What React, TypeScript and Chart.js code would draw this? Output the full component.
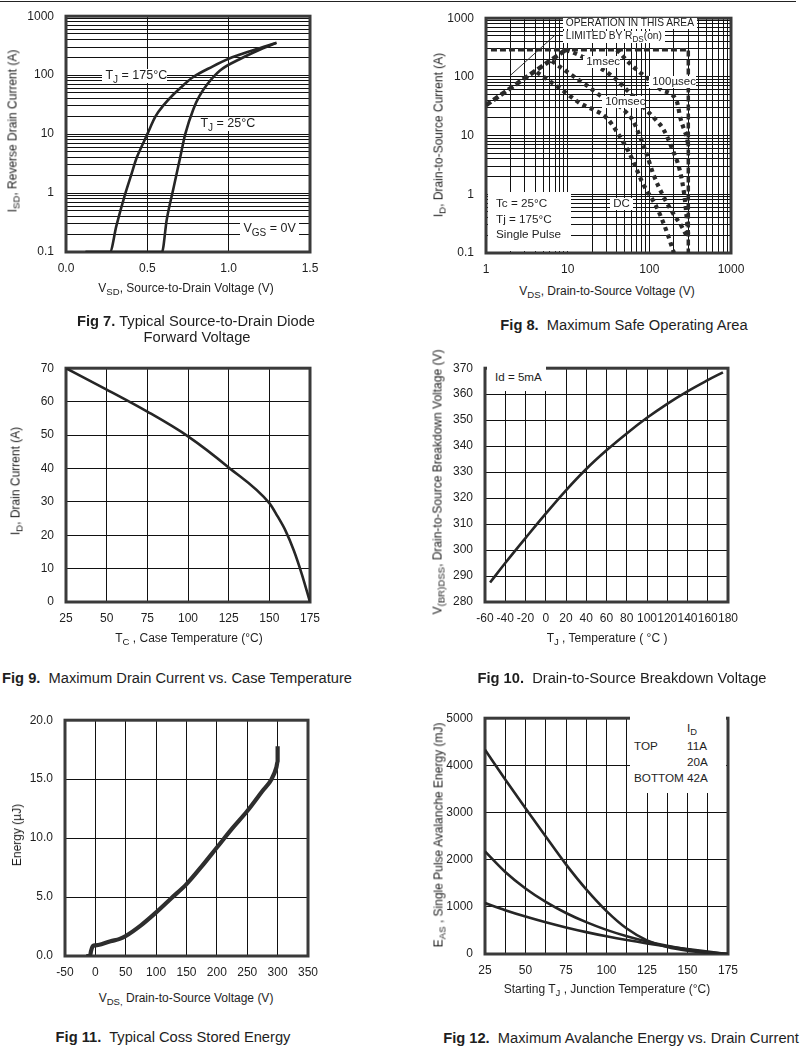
import React, { useEffect, useRef } from "react";
import { Chart, registerables } from "chart.js";
Chart.register(...registerables);

// ---------------- Fig 7 : source-to-drain diode forward voltage ----------------
const fig7XTicks = [0.0, 0.5, 1.0, 1.5];
const fig7YTicks = [0.1, 1, 10, 100, 1000];
const fig7V175 = [0.12, 0.27, 0.31, 0.363, 0.4, 0.435, 0.47, 0.5, 0.55, 0.6, 0.66, 0.72, 0.78, 0.9, 1.0, 1.15, 1.295];
const fig7I175 = [0.1, 0.1, 0.28, 0.95, 2.0, 4.0, 6.6, 10, 20, 31, 47, 67, 92, 140, 190, 265, 355];
const fig7V25 = [0.12, 0.59, 0.619, 0.66, 0.7, 0.733, 0.784, 0.82, 0.865, 0.947, 1.07, 1.18, 1.29];
const fig7I25 = [0.1, 0.1, 0.35, 1.18, 3.8, 10, 27, 44, 68, 120, 188, 262, 350];

// ---------------- Fig 8 : safe operating area ----------------
const fig8XTicks = [1, 10, 100, 1000];
const fig8YTicks = [0.1, 1, 10, 100, 1000];
const fig8RdsV = [1, 9.5];
const fig8RdsI = [33, 290];
const fig8LimitV = [1.15, 300, 300];
const fig8LimitI = [290, 290, 0.1];
const fig8GuideV = [2.0, 7.1];
const fig8GuideI = [107, 524];
const fig8Us100V = [40, 60, 80, 102, 140, 216, 240, 270, 290, 298];
const fig8Us100I = [290, 160, 114, 87, 60, 39, 20, 12, 9, 7];
const fig8Ms1V = [9.5, 14.4, 21, 38, 53, 84, 127, 148, 190, 237, 270, 300];
const fig8Ms1I = [290, 229, 167, 94, 60, 31, 17, 13, 6, 2.5, 0.9, 0.2];
const fig8Ms10V = [6.4, 10, 17, 27, 40, 52, 63, 72, 92, 112, 150, 200, 250, 290];
const fig8Ms10I = [186, 120, 72, 45, 34, 25, 18, 12, 5, 2.2, 0.9, 0.45, 0.28, 0.19];
const fig8DcV = [4.2, 8, 14, 30, 38, 57, 84, 123, 160, 200];
const fig8DcI = [120, 64, 36, 20, 13, 5, 1.5, 0.6, 0.25, 0.1];

// ---------------- Fig 9 : drain current vs case temperature ----------------
const fig9XTicks = [25, 50, 75, 100, 125, 150, 175];
const fig9YTicks = [0, 10, 20, 30, 40, 50, 60, 70];
const fig9Temp = [25, 50, 75, 100, 125, 150, 155, 160, 165, 170, 175];
const fig9Current = [70, 63.6, 57.0, 49.6, 40.3, 29.6, 25.7, 21.3, 15.5, 8.3, 0];

// ---------------- Fig 10 : breakdown voltage ----------------
const fig10XTicks = [-60, -40, -20, 0, 20, 40, 60, 80, 100, 120, 140, 160, 180];
const fig10YTicks = [280, 290, 300, 310, 320, 330, 340, 350, 360, 370];
const fig10Temp = [-55, -40, -20, 0, 20, 40, 60, 80, 100, 120, 140, 160, 175];
const fig10Voltage = [287.5, 295.0, 304.6, 314.0, 323.0, 331.2, 338.4, 344.9, 350.9, 356.3, 361.1, 365.4, 368.4];

// ---------------- Fig 11 : Coss stored energy ----------------
const fig11XTicks = [-50, 0, 50, 100, 150, 200, 250, 300, 350];
const fig11YTicks = [0, 5, 10, 15, 20];
const fig11Voltage = [-15, -9, -7, -4, 0, 10, 25, 40, 50, 75, 100, 125, 150, 175, 200, 225, 250, 275, 290, 298, 300, 300];
const fig11Energy = [0, 0, 0.45, 0.85, 0.9, 1.0, 1.25, 1.45, 1.7, 2.6, 3.7, 4.9, 6.1, 7.6, 9.2, 10.8, 12.3, 14.0, 15.0, 16.0, 16.5, 17.8];

// ---------------- Fig 12 : avalanche energy ----------------
const fig12XTicks = [25, 50, 75, 100, 125, 150, 175];
const fig12YTicks = [0, 1000, 2000, 3000, 4000, 5000];
const fig12Temp = [25, 37.5, 50, 62.5, 75, 87.5, 100, 112.5, 125, 137.5, 150, 162.5, 175];
const fig12E11A = [4330, 3700, 3090, 2490, 1900, 1370, 910, 540, 290, 150, 70, 22, 0];
const fig12E20A = [2175, 1740, 1390, 1105, 870, 675, 512, 377, 265, 172, 95, 38, 0];
const fig12E42A = [1080, 930, 795, 673, 563, 464, 375, 295, 224, 160, 103, 50, 0];

// ---------------- helpers ----------------
const FONT = '"Liberation Sans", Arial, Helvetica, sans-serif';
const INK = "#1e1e1e";
const PL = 60, PT = 12, PR = 30, PB = 30;

type Rect = { l: number; t: number; w: number; h: number };

const pts = (xs: number[], ys: number[]) => xs.map((x, i) => ({ x, y: ys[i] }));

function logGrid(decades: number[]): number[] {
  const out: number[] = [];
  for (let i = 0; i < decades.length - 1; i++) {
    for (let m = 1; m < 10; m++) out.push(+(decades[i] * m).toPrecision(6));
  }
  out.push(decades[decades.length - 1]);
  return out;
}

function halfSteps(ticks: number[]): number[] {
  const out: number[] = [];
  ticks.forEach((t, i) => {
    out.push(t);
    if (i < ticks.length - 1) out.push((t + ticks[i + 1]) / 2);
  });
  return out;
}

function axis(
  kind: "x" | "y",
  type: "linear" | "logarithmic",
  gridVals: number[],
  labelVals: number[],
  fmt: (v: number) => string
) {
  const min = gridVals[0];
  const max = gridVals[gridVals.length - 1];
  return {
    type,
    min,
    max,
    position: kind === "x" ? "bottom" : "left",
    afterBuildTicks: (s: any) => {
      s.ticks = gridVals.map((v) => ({ value: v }));
    },
    afterFit: (s: any) => {
      if (kind === "x") s.height = PB;
      else s.width = PL;
    },
    grid: { color: "#111", lineWidth: 1, drawTicks: false },
    border: { display: false },
    ticks: {
      autoSkip: false,
      maxRotation: 0,
      minRotation: 0,
      padding: kind === "x" ? 9 : 12,
      color: INK,
      font: { family: FONT, size: 12 },
      callback: (v: number) => {
        const hit = labelVals.find((l) => Math.abs(l - v) <= 1e-7 * Math.max(1, Math.abs(l)));
        return hit === undefined ? "" : fmt(hit);
      },
    },
  };
}

function line(data: { x: number; y: number }[], width = 2.5, dash: number[] = [], color = "#262626") {
  return {
    data,
    showLine: true,
    borderColor: color,
    backgroundColor: color,
    borderWidth: width,
    borderDash: dash,
    borderCapStyle: "butt",
    borderJoinStyle: "round",
    pointRadius: 0,
    pointHoverRadius: 0,
    fill: false,
    cubicInterpolationMode: "monotone",
  };
}

const frame = {
  id: "frame",
  beforeDatasetsDraw(chart: any) {
    const { ctx, chartArea: a } = chart;
    ctx.save();
    ctx.strokeStyle = "#3a3a3a";
    ctx.lineWidth = 3;
    ctx.strokeRect(a.left, a.top, a.right - a.left, a.bottom - a.top);
    ctx.restore();
  },
};

function cfg(x: any, y: any, datasets: any[]) {
  return {
    type: "scatter",
    data: { datasets },
    options: {
      animation: false,
      responsive: false,
      maintainAspectRatio: false,
      devicePixelRatio: 1,
      events: [],
      layout: { padding: { left: 0, top: PT, right: PR, bottom: 0 } },
      plugins: { legend: { display: false }, tooltip: { enabled: false } },
      scales: { x, y },
    },
    plugins: [frame],
  };
}

function ChartPanel({ rect, make }: { rect: Rect; make: () => any }) {
  const ref = useRef<HTMLCanvasElement | null>(null);
  useEffect(() => {
    const c = new Chart(ref.current as HTMLCanvasElement, make());
    return () => c.destroy();
  }, []);
  const w = rect.w + PL + PR;
  const h = rect.h + PT + PB;
  return (
    <canvas
      ref={ref}
      width={w}
      height={h}
      style={{ position: "absolute", left: rect.l - PL, top: rect.t - PT, width: w, height: h }}
    />
  );
}

const Sub = ({ children }: { children: React.ReactNode }) => (
  <span style={{ fontSize: "0.8em", position: "relative", top: "0.32em" }}>{children}</span>
);

// text placed by baseline
function Txt({
  x, y, size = 12, children, align = "left", bg = false,
}: {
  x: number; y: number; size?: number; children: React.ReactNode; align?: "left" | "center"; bg?: boolean;
}) {
  return (
    <div
      style={{
        position: "absolute",
        left: x,
        top: y - 0.8465 * size,
        fontFamily: FONT,
        fontSize: size,
        lineHeight: `${size}px`,
        color: INK,
        whiteSpace: "nowrap",
        transform: align === "center" ? "translateX(-50%)" : undefined,
        background: bg ? "#fff" : undefined,
      }}
    >
      {children}
    </div>
  );
}

function VTitle({ cx, cy, children, size = 12 }: { cx: number; cy: number; children: React.ReactNode; size?: number }) {
  return (
    <div
      style={{
        position: "absolute",
        left: cx,
        top: cy,
        fontFamily: FONT,
        fontSize: size,
        lineHeight: `${size + 2}px`,
        color: INK,
        whiteSpace: "nowrap",
        transform: "translate(-50%, -50%) rotate(-90deg)",
      }}
    >
      {children}
    </div>
  );
}

const WhiteBox = ({ l, t, r, b }: { l: number; t: number; r: number; b: number }) => (
  <div style={{ position: "absolute", left: l, top: t, width: r - l, height: b - t, background: "#fff" }} />
);

const CAP = 14.7;
const Caption = ({ x, y, num, text }: { x: number; y: number; num: string; text: string }) => (
  <Txt x={x} y={y} size={CAP} align="center">
    <b>{num}</b>
    {text}
  </Txt>
);

// ---------------- chart builders ----------------
const R7: Rect = { l: 66, t: 9, w: 244, h: 243 };
const R8: Rect = { l: 486, t: 11, w: 245, h: 242 };
const R9: Rect = { l: 66, t: 361, w: 244, h: 241 };
const R10: Rect = { l: 485, t: 361, w: 243, h: 241 };
const R11: Rect = { l: 65, t: 713, w: 243, h: 243 };
const R12: Rect = { l: 485, t: 711, w: 243, h: 243 };

const SOA = "#2a2a2a";

const make7 = () =>
  cfg(
    axis("x", "linear", fig7XTicks, fig7XTicks, (v) => v.toFixed(1)),
    axis("y", "logarithmic", logGrid(fig7YTicks), fig7YTicks, (v) => String(v)),
    [line(pts(fig7V175, fig7I175), 2.6), line(pts(fig7V25, fig7I25), 2.6)]
  );

const make8 = () =>
  cfg(
    axis("x", "logarithmic", logGrid(fig8XTicks), fig8XTicks, (v) => String(v)),
    axis("y", "logarithmic", logGrid(fig8YTicks), fig8YTicks, (v) => String(v)),
    [
      line(pts(fig8GuideV, fig8GuideI), 1, [], "#333"),
      { ...line(pts(fig8LimitV, fig8LimitI), 3.5, [6, 3], SOA), cubicInterpolationMode: "default", tension: 0 },
      { ...line(pts(fig8RdsV, fig8RdsI), 4.5, [6, 3], SOA), cubicInterpolationMode: "default", tension: 0 },
      line(pts(fig8Us100V, fig8Us100I), 4.2, [4, 4], SOA),
      line(pts(fig8Ms1V, fig8Ms1I), 4.2, [4, 4], SOA),
      line(pts(fig8Ms10V, fig8Ms10I), 4.2, [4, 4], SOA),
      line(pts(fig8DcV, fig8DcI), 4.2, [4, 4], SOA),
    ]
  );

const make9 = () =>
  cfg(
    axis("x", "linear", fig9XTicks, fig9XTicks, (v) => String(v)),
    axis("y", "linear", fig9YTicks, fig9YTicks, (v) => String(v)),
    [line(pts(fig9Temp, fig9Current), 2.6)]
  );

const make10 = () =>
  cfg(
    axis("x", "linear", fig10XTicks, fig10XTicks, (v) => String(v)),
    axis("y", "linear", fig10YTicks, fig10YTicks, (v) => String(v)),
    [{ ...line(pts(fig10Temp, fig10Voltage), 2.6), cubicInterpolationMode: "default", tension: 0.4 }]
  );

const make11 = () =>
  cfg(
    axis("x", "linear", fig11XTicks, fig11XTicks, (v) => String(v)),
    axis("y", "linear", fig11YTicks, fig11YTicks, (v) => v.toFixed(1)),
    [line(pts(fig11Voltage, fig11Energy), 4.2, [], "#2e2e2e")]
  );

const make12 = () =>
  cfg(
    axis("x", "linear", halfSteps(fig12XTicks), fig12XTicks, (v) => String(v)),
    axis("y", "linear", fig12YTicks, fig12YTicks, (v) => String(v)),
    [
      line(pts(fig12Temp, fig12E11A), 2.6),
      line(pts(fig12Temp, fig12E20A), 2.6),
      line(pts(fig12Temp, fig12E42A), 2.6),
    ]
  );

export default function App() {
  return (
    <div
      style={{
        position: "absolute",
        left: 0,
        top: 0,
        width: 802,
        height: 1049,
        background: "#fff",
        overflow: "hidden",
      }}
    >
      <div style={{ position: "absolute", left: 0, top: 1, width: 796, height: 1, background: "#222" }} />

      {/* Fig 7 */}
      <ChartPanel rect={R7} make={make7} />
      <Txt x={102} y={80} size={12.5} bg>
        &nbsp;T<Sub>J</Sub> = 175°C
      </Txt>
      <Txt x={197} y={128} size={12.5} bg>
        &nbsp;T<Sub>J</Sub> = 25°C
      </Txt>
      <Txt x={240} y={233} size={12.5} bg>
        &nbsp;V<Sub>GS</Sub> = 0V&nbsp;
      </Txt>
      <VTitle cx={13} cy={131}>
        I<Sub>SD</Sub>, Reverse Drain Current (A)
      </VTitle>
      <Txt x={186} y={292} align="center">
        V<Sub>SD</Sub>, Source-to-Drain Voltage (V)
      </Txt>
      <Caption x={196} y={326} num="Fig 7." text=" Typical Source-to-Drain Diode" />
      <Txt x={197} y={342} size={CAP} align="center">
        Forward Voltage
      </Txt>

      {/* Fig 8 */}
      <ChartPanel rect={R8} make={make8} />
      <WhiteBox l={488} t={192} r={571} b={251} />
      <Txt x={563} y={27} size={10.2} bg>
        &nbsp;OPERATION IN THIS AREA&nbsp;
      </Txt>
      <Txt x={563} y={40} size={10.2} bg>
        &nbsp;LIMITED BY R<Sub>DS</Sub>(on)&nbsp;
      </Txt>
      <Txt x={583} y={66} size={11.5} bg>
        &nbsp;1msec
      </Txt>
      <Txt x={649} y={86} size={11.5} bg>
        &nbsp;100µsec
      </Txt>
      <Txt x={602} y={106} size={11.5} bg>
        &nbsp;10msec
      </Txt>
      <Txt x={610} y={208} size={11.5} bg>
        &nbsp;DC&nbsp;
      </Txt>
      <Txt x={496} y={207} size={11.7}>
        Tc = 25°C
      </Txt>
      <Txt x={496} y={222.5} size={11.7}>
        Tj = 175°C
      </Txt>
      <Txt x={496} y={237.5} size={11.7}>
        Single Pulse
      </Txt>
      <VTitle cx={439} cy={135}>
        I<Sub>D</Sub>, Drain-to-Source Current (A)
      </VTitle>
      <Txt x={607} y={295} align="center">
        V<Sub>DS</Sub>, Drain-to-Source Voltage (V)
      </Txt>
      <Caption x={624} y={330} num="Fig 8." text={"\u00a0 Maximum Safe Operating Area"} />

      {/* Fig 9 */}
      <ChartPanel rect={R9} make={make9} />
      <VTitle cx={16} cy={481}>
        I<Sub>D</Sub>, Drain Current (A)
      </VTitle>
      <Txt x={189} y={642} align="center">
        T<Sub>C</Sub> , Case Temperature (°C)
      </Txt>
      <Caption x={177} y={683} num="Fig 9." text={"\u00a0 Maximum Drain Current vs. Case Temperature"} />

      {/* Fig 10 */}
      <ChartPanel rect={R10} make={make10} />
      <WhiteBox l={487} t={363} r={546} b={391} />
      <Txt x={495} y={381} size={11.6}>
        Id = 5mA
      </Txt>
      <VTitle cx={438} cy={482}>
        V<Sub>(BR)DSS</Sub>, Drain-to-Source Breakdown Voltage (V)
      </VTitle>
      <Txt x={607} y={642} align="center">
        T<Sub>J</Sub> , Temperature ( °C )
      </Txt>
      <Caption x={622} y={683} num="Fig 10." text={"\u00a0 Drain-to-Source Breakdown Voltage"} />

      {/* Fig 11 */}
      <ChartPanel rect={R11} make={make11} />
      <VTitle cx={17} cy={835}>
        Energy (µJ)
      </VTitle>
      <Txt x={186} y={1002} align="center">
        V<Sub>DS,</Sub> Drain-to-Source Voltage (V)
      </Txt>
      <Caption x={173} y={1042} num="Fig 11." text={"\u00a0 Typical Coss Stored Energy"} />

      {/* Fig 12 */}
      <ChartPanel rect={R12} make={make12} />
      <WhiteBox l={630} t={713} r={726} b={793} />
      <Txt x={687} y={732} size={11.7}>
        I<Sub>D</Sub>
      </Txt>
      <Txt x={634} y={750} size={11.7}>
        TOP
      </Txt>
      <Txt x={687} y={750} size={11.7}>
        11A
      </Txt>
      <Txt x={687} y={766} size={11.7}>
        20A
      </Txt>
      <Txt x={634} y={782} size={11.7}>
        BOTTOM 42A
      </Txt>
      <VTitle cx={439} cy={835}>
        E<Sub>AS</Sub> , Single Pulse Avalanche Energy (mJ)
      </VTitle>
      <Txt x={607} y={993} align="center">
        Starting T<Sub>J</Sub> , Junction Temperature (°C)
      </Txt>
      <Caption x={621} y={1043} num="Fig 12." text={"\u00a0 Maximum Avalanche Energy vs. Drain Current"} />
    </div>
  );
}
